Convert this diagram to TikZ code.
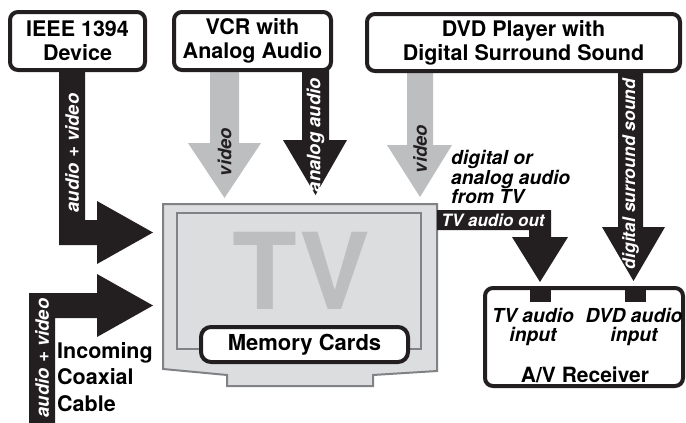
\documentclass[tikz,border=0pt]{standalone}
\usepackage{fontspec}
\setmainfont{TeX Gyre Heros}
\definecolor{blk}{HTML}{231F20}
\definecolor{arrgray}{HTML}{BCBEC0}
\definecolor{tvfill}{HTML}{DCDDDE}
\definecolor{tvline}{HTML}{808285}
\definecolor{tvtext}{HTML}{BCBEC0}
\tikzset{
  devbox/.style={draw=blk, line width=4pt, rounded corners=8pt, fill=white, align=center,
    inner sep=0pt, font=\bfseries\fontsize{21.5}{24}\selectfont},
  vlab/.style={rotate=90, font=\bfseries\itshape\fontsize{18.5}{18.5}\selectfont, text=white, inner sep=0pt},
  blkarrow/.style={fill=blk},
  grayarrow/.style={fill=arrgray},
  itlab/.style={font=\bfseries\itshape\fontsize{19.3}{16.8}\selectfont, inner sep=0pt, align=left},
  rxlab/.style={font=\bfseries\itshape\fontsize{19.3}{19.5}\selectfont, inner sep=0pt, align=center},
}
\begin{document}
\begin{tikzpicture}[x=1pt,y=-1pt]
\useasboundingbox (0,0) rectangle (686,423);

% ---- TV body
\path[fill=tvfill, draw=tvline, line width=2pt]
  (163,204) -- (437,204) -- (437,371) -- (373,375) -- (373,386) -- (227,386) -- (227,375) -- (163,369) -- cycle;
\path[draw=tvline, line width=2pt] (177,213) rectangle (421,349);
\node[text=tvtext, font=\bfseries\fontsize{106}{106}\selectfont, inner sep=0pt] (tv) at (301,271) {TV};
\node[devbox, rounded corners=10pt, minimum width=207pt, minimum height=35pt, font=\bfseries\fontsize{22}{22}\selectfont] (mem) at (304.5,344.5) {Memory Cards};

% ---- arrows
% IEEE -> TV
\path[blkarrow] (59,70) -- (85,70) -- (85,220) -- (97,220) -- (97,201) -- (153,232.5) -- (97,264) -- (97,245) -- (59,245) -- cycle;
\node[vlab] (l1) at (72,153) {audio + video};
% coax -> TV
\path[blkarrow] (29,423) -- (29,293) -- (97,293) -- (97,274) -- (153,305.5) -- (97,337) -- (97,318) -- (55,318) -- (55,423) -- cycle;
\node[vlab] (l2) at (42,358) {audio + video};
% VCR video
\path[grayarrow] (210,70) -- (239,70) -- (239,143) -- (261,143) -- (224.5,198) -- (188,143) -- (210,143) -- cycle;
\node[vlab, text=blk] (l3) at (224.5,152) {video};
% VCR analog audio
\path[blkarrow] (302,70) -- (329,70) -- (329,140) -- (347,140) -- (315.5,195) -- (283,140) -- (302,140) -- cycle;
\node[vlab] (l4) at (315.5,135) {analog audio};
% DVD video
\path[grayarrow] (407,71) -- (433,71) -- (433,145) -- (452,145) -- (420,197) -- (387,145) -- (407,145) -- cycle;
\node[vlab, text=blk] (l5) at (420,149) {video};
% DVD digital surround sound
\path[blkarrow] (618,71) -- (643,71) -- (643,227) -- (665,227) -- (633.5,281) -- (602,227) -- (618,227) -- cycle;
\node[vlab, font=\bfseries\itshape\fontsize{17.5}{17.5}\selectfont] (l6) at (630.5,174) {digital surround sound};
% TV audio out
\path[blkarrow] (437,210) -- (551,210) -- (551,237) -- (568,237) -- (540,282) -- (512,237) -- (529,237) -- (529,230) -- (437,230) -- cycle;
\node[font=\bfseries\itshape\fontsize{17}{17}\selectfont, text=white, inner sep=0pt] (tvout) at (493,220.5) {TV audio out};
\node[itlab, anchor=north west] (dig) at (451,150) {digital or\\analog audio\\from TV};

% ---- device boxes
\node[devbox, minimum width=135pt, minimum height=58pt] (ieee) at (77.5,41) {IEEE 1394\\Device};
\node[devbox, minimum width=157pt, minimum height=58pt] (vcr) at (252.5,41) {VCR with\\Analog Audio};
\node[devbox, minimum width=313pt, minimum height=57pt] (dvd) at (523.5,42.5) {DVD Player with\\Digital Surround Sound};

% ---- receiver
\node[devbox, minimum width=198pt, minimum height=98pt] (rx) at (584,337) {};
\path[fill=blk] (530,289) rectangle (551,302);
\path[fill=blk] (625,289) rectangle (646,302);
\node[rxlab] (tvin) at (533,327) {TV audio\\input};
\node[rxlab] (dvdin) at (634,327) {DVD audio\\input};
\node[font=\bfseries\fontsize{21}{21}\selectfont, inner sep=0pt] (rxname) at (585,375) {A/V Receiver};

% ---- coax label
\node[font=\bfseries\fontsize{21.5}{26.5}\selectfont, inner sep=0pt, align=left, anchor=north west] (coax) at (57,342) {Incoming\\Coaxial\\Cable};
\end{tikzpicture}
\end{document}
